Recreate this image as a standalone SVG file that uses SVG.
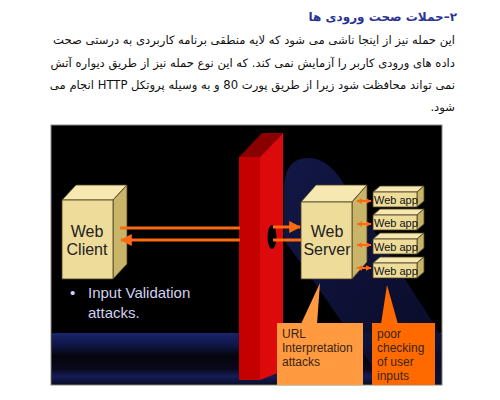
<svg xmlns="http://www.w3.org/2000/svg" width="500" height="400" viewBox="0 0 500 400">
<defs>
<style>
.fa{font-family:"DejaVu Sans","Noto Sans",sans-serif;direction:rtl;unicode-bidi:embed;}
.body{font-size:11.6px;fill:#111;}
.head{font-size:12px;font-weight:bold;fill:#2a3590;}
.lbl{font-family:"Liberation Sans",Arial,sans-serif;fill:#222;}
.big{font-size:16px;text-anchor:middle;}
.app{font-size:11px;fill:#111;}
.call{font-size:12px;fill:#3a2410;}
.bul{font-family:"Liberation Sans",Arial,sans-serif;font-size:15px;fill:#d2d0f2;}
.front{fill:#eedc9a;stroke:#4a4020;stroke-width:0.8;}
.top{fill:#f6e8b0;stroke:#4a4020;stroke-width:0.8;}
.side{fill:#c9b569;stroke:#4a4020;stroke-width:0.8;}
.arr{stroke:#ff6a10;stroke-width:3;fill:none;}
.sarr{stroke:#ff6a10;stroke-width:2;fill:none;}
</style>
<marker id="ah" viewBox="0 0 10 10" refX="9" refY="5" markerWidth="4" markerHeight="4" orient="auto-start-reverse" markerUnits="strokeWidth">
<path d="M0,0 L10,5 L0,10 Z" fill="#ff6a10"/>
</marker>
<marker id="ahs" viewBox="0 0 10 10" refX="9" refY="5" markerWidth="3" markerHeight="3" orient="auto-start-reverse" markerUnits="strokeWidth">
<path d="M0,0 L10,5 L0,10 Z" fill="#ff6a10"/>
</marker>
<linearGradient id="floor" x1="0" y1="0" x2="0" y2="1">
<stop offset="0" stop-color="#1a2468"/>
<stop offset="0.22" stop-color="#10174a"/>
<stop offset="0.45" stop-color="#05050d"/>
<stop offset="0.7" stop-color="#08081a"/>
<stop offset="0.85" stop-color="#151c56"/>
<stop offset="1" stop-color="#0a0d2a"/>
</linearGradient>
<linearGradient id="swoosh" x1="0" y1="0" x2="1" y2="1">
<stop offset="0" stop-color="#151b52"/>
<stop offset="1" stop-color="#0a0d2c"/>
</linearGradient>
</defs>

<rect width="500" height="400" fill="#ffffff"/>

<g id="text">
<text class="fa head" x="457" y="21" text-anchor="start">۲–حملات صحت ورودی ها</text>
<text class="fa body" x="455" y="44" text-anchor="start">این حمله نیز از اینجا ناشی می شود که لایه منطقی برنامه کاربردی به درستی صحت</text>
<text class="fa body" x="455" y="67" text-anchor="start">داده های ورودی کاربر را آزمایش نمی کند. که این نوع حمله نیز از طریق دیواره آتش</text>
<text class="fa body" x="455" y="89" text-anchor="start">نمی تواند محافظت شود زیرا از طریق پورت 80 و به وسیله پروتکل HTTP انجام می</text>
<text class="fa body" x="455" y="111" text-anchor="start">شود.</text>
</g>

<g id="backdrop">
<rect x="51" y="125" width="391" height="260" fill="#000" stroke="#8a8a8a" stroke-width="1"/>
<rect x="52" y="333" width="389" height="51" fill="url(#floor)"/>
<path d="M284,190 Q284,158 308,158 Q326,158 340,178 L441,335 L441,384 L385,384 L300,262 L284,240 Z" fill="url(#swoosh)" opacity="0.85"/>
</g>

<g id="firewall">
<path d="M239,157 L262,133 L283,133 L260,157 Z" fill="#8a0000"/>
<rect x="239" y="157" width="21" height="223" fill="#c40000"/>
<path d="M260,157 L283,133 L283,371 L260,380 Z" fill="#dc0a0a"/>
<ellipse cx="272" cy="237" rx="4.5" ry="12" fill="#000"/>
</g>

<g id="client">
<path class="top" d="M62,200 L76,185 L127,185 L113,200 Z"/>
<path class="side" d="M113,200 L127,185 L127,264 L113,279 Z"/>
<rect class="front" x="62" y="200" width="51" height="79"/>
<text class="lbl big" x="87" y="237">Web</text>
<text class="lbl big" x="87" y="255">Client</text>
</g>

<g id="bullet">
<text class="bul" x="70" y="298">•</text>
<text class="bul" x="88" y="298">Input Validation</text>
<text class="bul" x="88" y="318">attacks.</text>
</g>

<g id="server">
<path class="top" d="M301,202 L316,185 L367,185 L352,202 Z"/>
<path class="side" d="M352,202 L367,185 L367,262 L352,279 Z"/>
<rect class="front" x="301" y="202" width="51" height="77"/>
<text class="lbl big" x="327" y="237">Web</text>
<text class="lbl big" x="327" y="255">Server</text>
</g>

<g id="app1">
<path class="top" d="M373,192 L380,186 L424,186 L417,192 Z"/>
<path class="side" d="M417,192 L424,186 L424,201 L417,207 Z"/>
<rect class="front" x="373" y="192" width="44" height="15"/>
<text class="lbl app" x="374" y="204">Web app</text>
</g>
<g id="app2">
<path class="top" d="M373,215 L380,209 L424,209 L417,215 Z"/>
<path class="side" d="M417,215 L424,209 L424,224 L417,230 Z"/>
<rect class="front" x="373" y="215" width="44" height="15"/>
<text class="lbl app" x="374" y="227">Web app</text>
</g>
<g id="app3">
<path class="top" d="M373,239 L380,233 L424,233 L417,239 Z"/>
<path class="side" d="M417,239 L424,233 L424,248 L417,254 Z"/>
<rect class="front" x="373" y="239" width="44" height="15"/>
<text class="lbl app" x="374" y="251">Web app</text>
</g>
<g id="app4">
<path class="top" d="M373,263 L380,257 L424,257 L417,263 Z"/>
<path class="side" d="M417,263 L424,257 L424,272 L417,278 Z"/>
<rect class="front" x="373" y="263" width="44" height="15"/>
<text class="lbl app" x="374" y="275">Web app</text>
</g>

<g id="connectors">
<line class="arr" x1="240" y1="228" x2="120" y2="228"/>
<line class="arr" x1="240" y1="240" x2="121" y2="240" marker-end="url(#ah)"/>
<line class="arr" x1="273" y1="227" x2="300" y2="227" marker-end="url(#ah)"/>
<line class="arr" x1="273" y1="240" x2="301" y2="240"/>
<line class="sarr" x1="357" y1="201" x2="371" y2="201" marker-start="url(#ahs)" marker-end="url(#ahs)"/>
<line class="sarr" x1="357" y1="224" x2="371" y2="224" marker-start="url(#ahs)" marker-end="url(#ahs)"/>
<line class="sarr" x1="357" y1="245" x2="371" y2="245" marker-start="url(#ahs)" marker-end="url(#ahs)"/>
<line class="sarr" x1="357" y1="268" x2="371" y2="268" marker-start="url(#ahs)" marker-end="url(#ahs)"/>
</g>

<g id="callout-url">
<path d="M320,283 L317,324 L301,324 Z" fill="#ff9a40"/>
<rect x="277" y="323" width="86" height="62" fill="#ff9a40"/>
<text class="lbl call" x="282" y="338">URL</text>
<text class="lbl call" x="282" y="352">Interpretation</text>
<text class="lbl call" x="282" y="366">attacks</text>
</g>

<g id="callout-poor">
<path d="M387,285 L381,324 L398,324 Z" fill="#ff6a00"/>
<rect x="372" y="323" width="63" height="62" fill="#ff6a00"/>
<text class="lbl call" x="377" y="338">poor</text>
<text class="lbl call" x="377" y="352">checking</text>
<text class="lbl call" x="377" y="366">of user</text>
<text class="lbl call" x="377" y="380">inputs</text>
</g>
</svg>
